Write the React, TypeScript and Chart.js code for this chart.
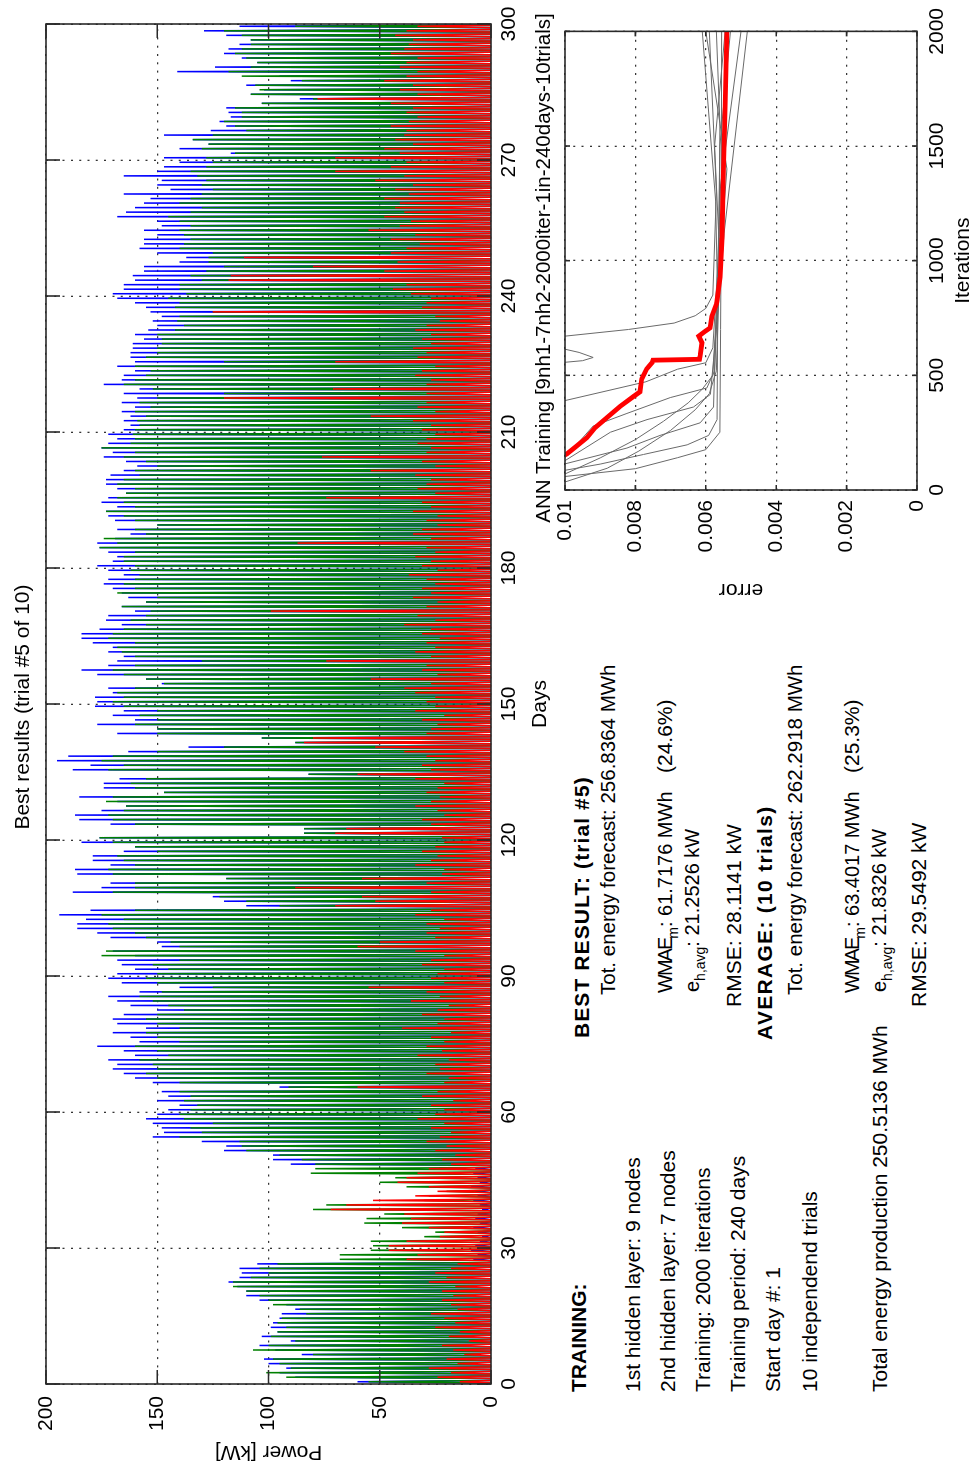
import React, { useEffect, useRef } from 'react';
import { Chart, registerables } from 'chart.js';

Chart.register(...registerables);

const FONT = '"Liberation Sans", Arial, Helvetica, sans-serif';

// Axis tick values
const dayTicks = [0, 30, 60, 90, 120, 150, 180, 210, 240, 270, 300];
const powerTicks = [0, 50, 100, 150, 200];
const iterationTicks = [0, 500, 1000, 1500, 2000];
const errorTicks = [0, 0.002, 0.004, 0.006, 0.008, 0.01];

// Daily peak power [kW], days 0..299 — measured production (blue)
const measuredPeak = [
  60, 88, 95, 92, 100, 102, 85, 97, 104, 90,
  103, 96, 99, 98, 95, 94, 88, 92, 104, 110,
  110, 114, 118, 113, 112, 113, 105, 8, 6, 9,
  7, 5, 4, 6, 8, 5, 7, 6, 4, 5,
  8, 6, 7, 9, 5, 6, 8, 7, 90, 98,
  98, 120, 119, 130, 152, 147, 148, 152, 155, 150,
  145, 140, 150, 145, 148, 95, 152, 160, 165, 170,
  168, 172, 160, 165, 177, 158, 162, 170, 155, 168,
  170, 165, 150, 162, 168, 172, 158, 140, 166, 172,
  168, 160, 166, 168, 160, 170, 148, 150, 171, 177,
  186, 186, 182, 194, 180, 110, 120, 125, 188, 175,
  171, 119, 186, 187, 171, 179, 179, 165, 160, 184,
  176, 84, 84, 171, 185, 187, 175, 164, 168, 185,
  147, 174, 174, 167, 82, 188, 180, 195, 190, 163,
  136, 88, 103, 168, 150, 177, 160, 170, 165, 178,
  177, 178, 170, 172, 148, 155, 177, 184, 172, 168,
  165, 172, 170, 179, 184, 184, 176, 166, 173, 172,
  160, 166, 155, 163, 166, 170, 174, 172, 165, 172,
  177, 170, 168, 172, 176, 177, 169, 162, 168, 150,
  169, 172, 173, 168, 175, 172, 164, 168, 173, 173,
  171, 165, 159, 164, 174, 170, 175, 172, 168, 172,
  165, 162, 165, 162, 166, 160, 166, 159, 165, 158,
  174, 166, 165, 160, 168, 160, 162, 162, 161, 161,
  156, 160, 154, 150, 152, 148, 153, 155, 160, 168,
  170, 165, 165, 160, 161, 156, 156, 140, 137, 150,
  158, 156, 156, 150, 156, 148, 150, 168, 164, 160,
  156, 153, 165, 144, 150, 148, 165, 150, 147, 140,
  147, 117, 140, 127, 134, 147, 126, 119, 122, 117,
  118, 119, 103, 86, 108, 102, 110, 90, 95, 141,
  124, 105, 112, 120, 118, 113, 108, 119, 129, 113,
];

// Daily peak power [kW] — ANN forecast (green)
const forecastPeak = [
  55, 92, 101, 90, 95, 98, 80, 107, 100, 88,
  99, 96, 92, 96, 94, 83, 86, 98, 100, 104,
  110, 116, 116, 108, 100, 104, 96, 68, 68, 54,
  53, 54, 30, 25, 40, 57, 56, 48, 80, 74,
  30, 28, 20, 38, 50, 43, 81, 79, 79, 85,
  95, 110, 112, 113, 140, 130, 135, 125, 138, 140,
  135, 132, 138, 135, 140, 91, 140, 150, 155, 150,
  152, 158, 145, 150, 160, 140, 150, 155, 140, 150,
  155, 150, 138, 145, 152, 158, 148, 125, 150, 155,
  150, 145, 152, 140, 175, 173, 140, 144, 155, 160,
  170, 172, 165, 175, 160, 95, 110, 122, 170, 160,
  160, 119, 170, 172, 160, 165, 168, 150, 160, 170,
  176, 84, 84, 160, 170, 172, 165, 164, 173, 170,
  147, 160, 162, 155, 82, 172, 165, 175, 170, 150,
  120, 88, 103, 150, 150, 160, 150, 158, 150, 165,
  170, 165, 168, 160, 147, 155, 165, 170, 160, 130,
  160, 166, 168, 160, 172, 170, 165, 155, 162, 155,
  153, 166, 155, 150, 168, 160, 165, 160, 158, 162,
  160, 165, 165, 160, 176, 168, 174, 155, 160, 150,
  160, 165, 173, 160, 165, 168, 164, 160, 168, 165,
  158, 160, 150, 155, 165, 160, 175, 162, 160, 161,
  160, 158, 159, 155, 160, 153, 158, 150, 120, 152,
  165, 160, 155, 153, 160, 120, 155, 150, 150, 148,
  148, 150, 142, 138, 141, 140, 125, 142, 140, 145,
  137, 140, 140, 130, 135, 128, 120, 127, 127, 125,
  140, 138, 135, 138, 140, 135, 140, 145, 135, 130,
  140, 135, 130, 125, 130, 128, 132, 135, 128, 125,
  128, 115, 130, 127, 134, 125, 110, 115, 120, 112,
  112, 115, 103, 80, 108, 104, 106, 85, 112, 118,
  108, 105, 110, 115, 112, 108, 108, 112, 120, 88,
];

// Daily peak of the absolute forecast error [kW] (red)
const errorPeak = [
  14, 24, 18, 28, 15, 20, 12, 17, 22, 10,
  19, 14, 25, 16, 21, 27, 15, 18, 22, 17,
  22, 16, 28, 20, 25, 18, 15, 38, 33, 46,
  46, 38, 23, 21, 28, 40, 36, 39, 72, 65,
  53, 34, 24, 28, 42, 38, 33, 28, 18, 22,
  16, 25, 20, 29, 23, 18, 27, 21, 33, 25,
  21, 27, 17, 31, 24, 60, 21, 19, 29, 23,
  25, 19, 33, 22, 29, 21, 27, 18, 40, 24,
  21, 31, 24, 19, 36, 23, 29, 55, 21, 27,
  24, 21, 31, 27, 21, 34, 60, 50, 25, 29,
  23, 29, 21, 34, 27, 70, 52, 58, 27, 88,
  29, 58, 22, 21, 34, 27, 24, 31, 25, 21,
  22, 70, 65, 27, 31, 21, 24, 34, 27, 23,
  29, 24, 21, 34, 60, 27, 31, 25, 29, 39,
  52, 84, 80, 29, 27, 24, 31, 21, 34, 25,
  29, 25, 34, 39, 27, 54, 24, 31, 29, 74,
  27, 34, 25, 29, 23, 31, 27, 39, 25, 33,
  99, 29, 24, 35, 27, 31, 25, 29, 37, 24,
  31, 27, 34, 25, 29, 87, 27, 35, 31, 24,
  29, 24, 35, 27, 31, 74, 25, 33, 29, 27,
  34, 54, 25, 31, 76, 29, 27, 33, 29, 25,
  31, 27, 35, 54, 25, 33, 29, 120, 29, 71,
  29, 27, 34, 31, 25, 70, 33, 29, 35, 27,
  31, 27, 34, 29, 23, 25, 125, 31, 29, 27,
  36, 44, 38, 118, 117, 48, 80, 42, 111, 45,
  38, 32, 45, 34, 55, 41, 36, 48, 39, 43,
  41, 48, 37, 43, 35, 52, 39, 70, 45, 38,
  70, 41, 48, 35, 43, 39, 38, 45, 37, 33,
  38, 35, 45, 78, 33, 41, 35, 48, 38, 33,
  41, 38, 33, 45, 39, 37, 35, 43, 38, 33,
];

// ANN training error curves: [iteration, error]
const bestTrial = [
  [0, 0.0125], [157, 0.00995], [185, 0.00972], [228, 0.00938], [271, 0.00915],
  [314, 0.00882], [364, 0.00844], [407, 0.00806], [428, 0.00787], [485, 0.00782],
  [528, 0.00768], [557, 0.00752], [566, 0.0075], [570, 0.00618], [585, 0.00616],
  [642, 0.00611], [671, 0.0062], [692, 0.00602], [707, 0.00588], [757, 0.00583],
  [814, 0.00569], [928, 0.00559], [1100, 0.00554], [1385, 0.0055], [1670, 0.00545],
  [2000, 0.0054],
];
const trialA = [[0, 0.013], [59, 0.01], [93, 0.008], [141, 0.0068], [176, 0.006], [252, 0.0056], [700, 0.00558], [1200, 0.00556], [2000, 0.00555]];
const trialB = [[0, 0.0125], [86, 0.01], [113, 0.009], [155, 0.00777], [197, 0.00653], [238, 0.00592], [307, 0.00568], [800, 0.00566], [1260, 0.00572], [2000, 0.0061]];
const trialC = [[0, 0.0135], [114, 0.01], [183, 0.00824], [238, 0.0073], [293, 0.00616], [362, 0.00578], [800, 0.0057], [1330, 0.00558], [2000, 0.005]];
const trialD = [[0, 0.014], [128, 0.01], [252, 0.00871], [307, 0.00767], [362, 0.00635], [417, 0.00587], [700, 0.0057], [1120, 0.00548], [2000, 0.00482]];
const trialE = [[0, 0.0145], [141, 0.01], [279, 0.0092], [334, 0.00824], [403, 0.00701], [445, 0.00597], [520, 0.00575], [1000, 0.00562], [1600, 0.0056], [2000, 0.0057]];
const trialF = [[0, 0.016], [390, 0.01], [472, 0.0077], [527, 0.0068], [555, 0.006], [620, 0.0058], [1000, 0.00565], [1500, 0.0056], [2000, 0.0053]];
const trialG = [[0, 0.03], [540, 0.0106], [557, 0.01], [564, 0.0095], [578, 0.0092], [600, 0.0096], [614, 0.01], [640, 0.0105], [671, 0.01], [700, 0.0082], [728, 0.0069], [760, 0.0063], [792, 0.006], [850, 0.0058], [1300, 0.0057], [2000, 0.0059]];
const trialH = [[0, 0.012], [35, 0.01], [95, 0.0088], [170, 0.0079], [260, 0.007], [350, 0.0063], [420, 0.0059], [520, 0.0057], [1000, 0.0056], [1500, 0.00575], [2000, 0.00545]];
const trialI = [[0, 0.0128], [70, 0.01], [140, 0.009], [220, 0.008], [300, 0.0072], [380, 0.0065], [440, 0.0061], [500, 0.0058], [900, 0.00565], [1400, 0.0054], [2000, 0.006]];
const otherTrials = [trialA, trialB, trialC, trialD, trialE, trialF, trialG, trialH, trialI];

// Daylight window inside each day (fraction of the day)
const SUNRISE = 0.22;
const NOON = 0.5;
const SUNSET = 0.78;

function dailyProfile(peaks: number[]) {
  const pts: { x: number; y: number }[] = [];
  peaks.forEach((p, d) => {
    pts.push({ x: d + SUNRISE, y: 0 }, { x: d + NOON, y: p }, { x: d + SUNSET, y: 0 });
  });
  return pts;
}

const toXY = (arr: number[][]) => arr.map(([x, y]) => ({ x, y }));

const GRID_COLOR = 'rgba(30,30,30,0.9)';
const AXIS_COLOR = '#2a2a2a';

// Box around the plot area with inward tick marks on all four sides
function boxPlugin(tickLen: number) {
  return {
    id: 'boxTicks',
    afterDatasetsDraw(chart: any) {
      const { ctx, chartArea: a, scales } = chart;
      const sx = scales.x;
      const sy = scales.y;
      ctx.save();
      ctx.strokeStyle = AXIS_COLOR;
      ctx.lineWidth = 1.6;
      ctx.setLineDash([]);
      ctx.strokeRect(a.left, a.top, a.right - a.left, a.bottom - a.top);
      ctx.beginPath();
      sx.ticks.forEach((t: any) => {
        const px = sx.getPixelForValue(t.value);
        ctx.moveTo(px, a.bottom);
        ctx.lineTo(px, a.bottom - tickLen);
        ctx.moveTo(px, a.top);
        ctx.lineTo(px, a.top + tickLen);
      });
      sy.ticks.forEach((t: any) => {
        const py = sy.getPixelForValue(t.value);
        ctx.moveTo(a.left, py);
        ctx.lineTo(a.left + tickLen, py);
        ctx.moveTo(a.right, py);
        ctx.lineTo(a.right - tickLen, py);
      });
      ctx.stroke();
      ctx.restore();
    },
  };
}

const tickFont = { family: FONT, size: 21 };

function axis(
  min: number,
  max: number,
  values: number[],
  title: string,
  fit: (s: any) => void,
  tickPadding: number,
  titlePadding: any,
  fmt?: (v: number) => string,
) {
  return {
    type: 'linear',
    min,
    max,
    afterBuildTicks: (s: any) => {
      s.ticks = values.map((v) => ({ value: v }));
    },
    afterFit: fit,
    ticks: {
      font: tickFont,
      color: '#000',
      padding: tickPadding,
      autoSkip: false,
      maxRotation: 0,
      callback: fmt ? (v: any) => fmt(Number(v)) : (v: any) => String(v),
    },
    grid: { color: GRID_COLOR, lineWidth: 1.3, drawTicks: false },
    border: { display: false, dash: [2, 6.3] },
    title: { display: true, text: title, font: tickFont, color: '#000', padding: titlePadding },
  };
}

function PowerChart() {
  const ref = useRef<HTMLCanvasElement>(null);
  useEffect(() => {
    if (!ref.current) return;
    const line = { pointRadius: 0, borderWidth: 1.5, borderJoinStyle: 'bevel', tension: 0, fill: false };
    const chart = new Chart(ref.current, {
      type: 'line',
      data: {
        datasets: [
          { data: dailyProfile(errorPeak), borderColor: '#ff0000', ...line },
          { data: dailyProfile(forecastPeak), borderColor: '#008000', ...line },
          { data: dailyProfile(measuredPeak), borderColor: '#0000ff', ...line },
        ],
      },
      options: {
        animation: false,
        responsive: false,
        devicePixelRatio: 1,
        parsing: false,
        normalized: true,
        layout: { padding: { left: 0, right: 24, top: 46, bottom: 0 } },
        plugins: { legend: { display: false }, tooltip: { enabled: false }, title: { display: false } },
        scales: {
          x: axis(0, 300, dayTicks, 'Days', (s) => { s.height = 69; }, 6, { top: 0, bottom: 7.4 }),
          y: axis(0, 200, powerTicks, 'Power [kW]', (s) => { s.width = 86; }, 12, { top: 5.4, bottom: 0 }),
        },
      } as any,
      plugins: [boxPlugin(14)],
    });
    return () => chart.destroy();
  }, []);
  return (
    <canvas
      ref={ref}
      width={1470}
      height={560}
      style={{ position: 'absolute', left: 0, top: 0, width: 1470, height: 560 }}
    />
  );
}

function TrainingChart() {
  const ref = useRef<HTMLCanvasElement>(null);
  useEffect(() => {
    if (!ref.current) return;
    const grey = { pointRadius: 0, borderWidth: 1, tension: 0, fill: false, borderColor: '#6a6a6a' };
    const chart = new Chart(ref.current, {
      type: 'line',
      data: {
        datasets: [
          { data: toXY(bestTrial), borderColor: '#ff0000', borderWidth: 4.8, pointRadius: 0, tension: 0, fill: false },
          ...otherTrials.map((t) => ({ data: toXY(t), ...grey })),
        ],
      },
      options: {
        animation: false,
        responsive: false,
        devicePixelRatio: 1,
        parsing: false,
        layout: { padding: { left: 0, right: 23.3, top: 45, bottom: 0 } },
        plugins: { legend: { display: false }, tooltip: { enabled: false }, title: { display: false } },
        scales: {
          x: axis(0, 2000, iterationTicks, 'Iterations', (s) => { s.height = 59; }, 8, { top: 0, bottom: 0.4 }),
          y: axis(0, 0.01, errorTicks, 'error', (s) => { s.width = 120; }, 10, { top: 7.4, bottom: 0 }, (v) =>
            String(Number(v.toFixed(4))),
          ),
        },
      } as any,
      plugins: [boxPlugin(5)],
    });
    return () => chart.destroy();
  }, []);
  return (
    <canvas
      ref={ref}
      width={610}
      height={456}
      style={{ position: 'absolute', left: 860, top: 520, width: 610, height: 456 }}
    />
  );
}

function Line({
  x,
  y,
  bold,
  size = 21,
  spacing = 0,
  children,
}: {
  x: number;
  y: number;
  bold?: boolean;
  size?: number;
  spacing?: number;
  children: React.ReactNode;
}) {
  return (
    <div
      style={{
        position: 'absolute',
        left: x,
        top: y - 11.8,
        fontFamily: FONT,
        fontSize: size,
        fontWeight: bold ? 'bold' : 'normal',
        letterSpacing: spacing,
        lineHeight: '24px',
        whiteSpace: 'pre',
        color: '#000',
      }}
    >
      {children}
    </div>
  );
}

const Sub = ({ children }: { children: React.ReactNode }) => (
  <span style={{ fontSize: 14, position: 'relative', top: 6 }}>{children}</span>
);

const Narrow = ({ children }: { children: React.ReactNode }) => (
  <span style={{ letterSpacing: -2 }}>{children}</span>
);

function Centered({ cx, y, size = 21, children }: { cx: number; y: number; size?: number; children: React.ReactNode }) {
  return (
    <div
      style={{
        position: 'absolute',
        left: cx - 400,
        width: 800,
        top: y - 11.8,
        textAlign: 'center',
        fontFamily: FONT,
        fontSize: size,
        lineHeight: '24px',
        whiteSpace: 'pre',
        color: '#000',
      }}
    >
      {children}
    </div>
  );
}

export default function App() {
  return (
    <div style={{ position: 'absolute', left: 0, top: 0, width: 976, height: 1470, overflow: 'hidden', background: '#fff' }}>
      <div
        style={{
          position: 'absolute',
          left: 0,
          top: 0,
          width: 1470,
          height: 976,
          transformOrigin: '0 0',
          transform: 'translateY(1470px) rotate(-90deg)',
          background: '#fff',
        }}
      >
        <PowerChart />
        <TrainingChart />
        <Centered cx={763} y={22}>Best results (trial #5 of 10)</Centered>
        <Centered cx={1202} y={543} size={20.5}>ANN Training [9nh1-7nh2-2000iter-1in-240days-10trials]</Centered>

        <Line x={78} y={579} bold>TRAINING:</Line>
        <Line x={78} y={632.5}>1st hidden layer: 9 nodes</Line>
        <Line x={78} y={668}>2nd hidden layer: 7 nodes</Line>
        <Line x={78} y={703}>Training: 2000 iterations</Line>
        <Line x={78} y={738}>Training period: 240 days</Line>
        <Line x={78} y={773}>Start day #: 1</Line>
        <Line x={78} y={810}>10 independend trials</Line>
        <Line x={78} y={880}>Total energy production 250.5136 MWh</Line>

        <Line x={432} y={581.5} bold spacing={1.1}>BEST RESULT: (trial #5)</Line>
        <Line x={475} y={607.5} size={20.5}>Tot. energy forecast: 256.8364 MWh</Line>
        <Line x={477} y={664.5} size={20}><Narrow>WMAE</Narrow><Sub>m</Sub>: 61.7176 MWh</Line>
        <Line x={697} y={664.5}>(24.6%)</Line>
        <Line x={478} y={692} size={20}>e<Sub>h,avg</Sub>: 21.2526 kW</Line>
        <Line x={463} y={733.5}>RMSE: 28.1141 kW</Line>

        <Line x={430} y={765} bold spacing={1.3}>AVERAGE: (10 trials)</Line>
        <Line x={475} y={795} size={20.5}>Tot. energy forecast: 262.2918 MWh</Line>
        <Line x={477} y={851.5} size={20}><Narrow>WMAE</Narrow><Sub>m</Sub>: 63.4017 MWh</Line>
        <Line x={697} y={851.5}>(25.3%)</Line>
        <Line x={478} y={879} size={20}>e<Sub>h,avg</Sub>: 21.8326 kW</Line>
        <Line x={463} y={918.5}>RMSE: 29.5492 kW</Line>
      </div>
    </div>
  );
}
